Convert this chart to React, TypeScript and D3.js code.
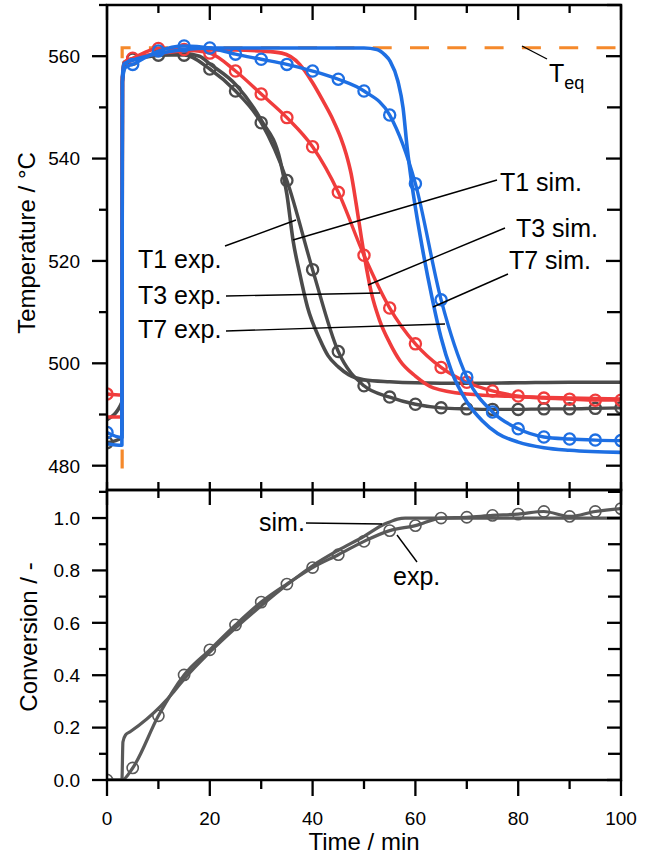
import React from "react";
import * as d3 from "d3";

// ---------- data ----------
const tExp = [0, 5, 10, 15, 20, 25, 30, 35, 40, 45, 50, 55, 60, 65, 70, 75, 80, 85, 90, 95, 100];

const t1Exp = [484.5, 559.4, 560.2, 560.2, 557.5, 553.2, 547, 535.7, 518.3, 502.3, 495.6, 493.4, 492, 491.3, 491.1, 491, 491, 491.1, 491.1, 491.2, 491.3];
const t3Exp = [494, 559.6, 561.5, 561.3, 560.6, 557.1, 552.6, 548, 542.3, 533.4, 521.1, 510.8, 503.8, 499.2, 496.3, 494.6, 493.6, 493.2, 493, 492.8, 492.8];
const t7Exp = [486.5, 558.4, 561, 562, 561.6, 560.4, 559.4, 558.4, 557.1, 555.5, 553.2, 548.5, 535.1, 512.4, 497.3, 490.5, 487.2, 485.6, 485.2, 485, 484.9];

const expLeadT = [0, 2.9, 3.0, 3.6];
const t1ExpLead = [484.5, 485.5, 555, 558.6];
const t3ExpLead = [494, 493.8, 556, 559];
const t7ExpLead = [486.5, 485.5, 555, 557.8];

const t1SimT = [0, 2.9, 3.0, 3.3, 5, 10, 15, 18, 20, 25, 30, 33.7, 35, 36.2, 37.5, 39, 41.4, 43, 45, 47, 50, 55, 60, 70, 80, 90, 100];
const t1SimV = [489, 492.4, 555, 558.8, 559.3, 560.2, 560.5, 560, 558.5, 554.5, 547.5, 539.6, 533, 524, 517.5, 511, 504.7, 501.5, 499.3, 497.8, 496.8, 496.4, 496.2, 496.1, 496.2, 496.3, 496.3];

const t3SimT = [0, 2.9, 3.0, 3.3, 5, 10, 15, 20, 25, 30, 34, 37.5, 40, 42, 44, 45.5, 46.5, 47.5, 48.5, 49.5, 50.5, 51.5, 53, 55, 57, 60, 63.5, 70, 80, 90, 100];
const t3SimV = [489.5, 489.5, 555, 558.6, 559.5, 560.5, 561, 561.2, 561.2, 561, 560.6, 558.4, 554.8, 551.3, 547.5, 544, 541, 537, 531, 524.5, 518.5, 513.5, 508.5, 504, 500.5, 497.5, 495.2, 494, 493.5, 493.2, 493];

const t7SimT = [0, 2.9, 3.0, 3.3, 5, 10, 15, 20, 30, 40, 50, 52.5, 54, 55.1, 56.6, 57.6, 58.4, 59.3, 61, 63.2, 65, 67, 70, 73, 76, 80, 85, 90, 100];
const t7SimV = [484.3, 484, 556, 558.5, 559.2, 560.5, 561.3, 561.6, 561.6, 561.6, 561.6, 561.3, 560.3, 559, 555.1, 549.9, 542.1, 535.1, 524.5, 513, 505, 498.5, 492.5, 488.8, 486.3, 484.6, 483.5, 483, 482.6];

const teqT = [2.95, 2.95, 100];
const teqV = [479, 561.65, 561.65];

const convExp = [0, 0.046, 0.245, 0.401, 0.497, 0.592, 0.679, 0.748, 0.811, 0.86, 0.911, 0.952, 0.971, 1.0, 1.003, 1.01, 1.015, 1.025, 1.006, 1.025, 1.036];
const convLeadT = [0, 2.9];
const convLeadV = [0, 0];
const convSimT = [0, 2.9, 3.1, 3.6, 4.5, 10.5, 13, 15, 20, 25, 30, 35, 40, 45, 50, 54, 55, 56.5, 58, 62, 100];
const convSimV = [0, 0, 0.145, 0.172, 0.184, 0.283, 0.337, 0.385, 0.488, 0.58, 0.665, 0.745, 0.818, 0.877, 0.93, 0.977, 0.985, 0.996, 1.0, 1.0, 1.0];

const xMajor = [0, 20, 40, 60, 80, 100];
const xMinor = [10, 30, 50, 70, 90];
const tempMajor = [480, 500, 520, 540, 560];
const tempMinor = [490, 510, 530, 550, 570];
const convMajor = [0, 0.2, 0.4, 0.6, 0.8, 1.0];
const convMinor = [0.1, 0.3, 0.5, 0.7, 0.9, 1.1];

// ---------- styles ----------
const FONT = "'Liberation Sans', Arial, Helvetica, sans-serif";
const GRAY = "#4b4b4b";
const GRAY2 = "#595959";
const RED = "#f03c3c";
const BLUE = "#1e6fe3";
const ORANGE = "#f5892b";

const L = 107, R = 621;
const TOP0 = 490, TOP1 = 5, BOT0 = 780, BOT1 = 490;

const x = d3.scaleLinear().domain([0, 100]).range([L, R]);
const yT = d3.scaleLinear().domain([475.25, 570]).range([TOP0, TOP1]);
const yB = d3.scaleLinear().domain([0, 1.107]).range([BOT0, BOT1]);

type P = [number, number];
const mk = (ts: number[], vs: number[]): P[] => ts.map((t, i) => [t, vs[i]] as P);

const lineT = d3.line<P>().x(d => x(d[0])).y(d => yT(d[1])).curve(d3.curveMonotoneX);
const lineB = d3.line<P>().x(d => x(d[0])).y(d => yB(d[1])).curve(d3.curveMonotoneX);
const lineLin = d3.line<P>().x(d => x(d[0])).y(d => yT(d[1]));

const expLine = (lead: number[], vals: number[]) =>
  mk(expLeadT, lead).concat(mk(tExp.slice(1), vals.slice(1)));

export default function App() {
  const seriesTop = [
    { sim: mk(t1SimT, t1SimV), exp: expLine(t1ExpLead, t1Exp), pts: t1Exp, c: GRAY },
    { sim: mk(t3SimT, t3SimV), exp: expLine(t3ExpLead, t3Exp), pts: t3Exp, c: RED },
    { sim: mk(t7SimT, t7SimV), exp: expLine(t7ExpLead, t7Exp), pts: t7Exp, c: BLUE },
  ];
  const convExpLine = mk(convLeadT, convLeadV).concat(mk(tExp.slice(1), convExp.slice(1)));

  const tk = (x1: number, y1: number, x2: number, y2: number, k: string) => (
    <line key={k} x1={x1} y1={y1} x2={x2} y2={y2} stroke="#000" strokeWidth={2.3} />
  );

  const ticks: JSX.Element[] = [];
  xMajor.forEach(v => {
    const px = x(v);
    ticks.push(tk(px, TOP1, px, TOP1 + 15, "tt" + v));
    ticks.push(tk(px, TOP0, px, TOP0 - 8, "tb" + v));
    ticks.push(tk(px, BOT1, px, BOT1 + 15, "bt" + v));
    ticks.push(tk(px, BOT0, px, BOT0 + 16, "bb" + v));
  });
  xMinor.forEach(v => {
    const px = x(v);
    ticks.push(tk(px, TOP1, px, TOP1 + 8, "ttm" + v));
    ticks.push(tk(px, TOP0, px, TOP0 - 8, "tbm" + v));
    ticks.push(tk(px, BOT1, px, BOT1 + 8, "btm" + v));
    ticks.push(tk(px, BOT0, px, BOT0 + 9, "bbm" + v));
  });
  tempMajor.forEach(v => {
    const py = yT(v);
    ticks.push(tk(L - 15, py, L, py, "tl" + v));
    ticks.push(tk(R - 15, py, R, py, "tr" + v));
  });
  tempMinor.forEach(v => {
    const py = yT(v);
    ticks.push(tk(L - 8, py, L, py, "tlm" + v));
    ticks.push(tk(R - 14, py, R, py, "trm" + v));
  });
  convMajor.forEach(v => {
    const py = yB(v);
    ticks.push(tk(L - 15, py, L, py, "bl" + v));
    ticks.push(tk(R - 14, py, R, py, "br" + v));
  });
  convMinor.forEach(v => {
    const py = yB(v);
    ticks.push(tk(L - 8, py, L, py, "blm" + v));
    ticks.push(tk(R - 13, py, R, py, "brm" + v));
  });

  const leaders: [number, number, number, number][] = [
    [522, 46, 547, 59],
    [225, 246, 296, 220],
    [293, 240, 497, 180],
    [226, 296, 380, 293],
    [368, 285, 505, 228],
    [226, 331, 445, 324],
    [433, 307, 508, 274],
    [306, 523, 382, 524],
    [397, 535, 417, 562],
  ];

  return (
    <svg width={654} height={857} style={{ position: "absolute", left: 0, top: 0, background: "#fff" }} fontFamily={FONT}>
      <defs>
        <clipPath id="cTop"><rect x={L} y={TOP1} width={R - L} height={TOP0 - TOP1} /></clipPath>
        <clipPath id="cBot"><rect x={L} y={BOT1} width={R - L} height={BOT0 - BOT1} /></clipPath>
      </defs>

      <g clipPath="url(#cTop)">
        <path d={lineLin(mk(teqT, teqV)) || ""} fill="none" stroke={ORANGE} strokeWidth={3.2} strokeDasharray="19 18.3" strokeDashoffset={35.1} />
        {seriesTop.map((s, i) => (
          <g key={i}>
            <path d={lineT(s.sim) || ""} fill="none" stroke={s.c} strokeWidth={3.6} strokeLinejoin="round" />
            <path d={lineT(s.exp) || ""} fill="none" stroke={s.c} strokeWidth={3.4} strokeLinejoin="round" />
            {s.pts.map((v, j) => (
              <circle key={j} cx={x(tExp[j])} cy={yT(v)} r={5.6} fill="none" stroke={s.c} strokeWidth={2.3} />
            ))}
          </g>
        ))}
      </g>

      <g clipPath="url(#cBot)">
        <path d={lineB(mk(convSimT, convSimV)) || ""} fill="none" stroke={GRAY2} strokeWidth={3.2} strokeLinejoin="round" />
        <path d={lineB(convExpLine) || ""} fill="none" stroke={GRAY2} strokeWidth={3.2} strokeLinejoin="round" />
        {convExp.map((v, j) => (
          <circle key={j} cx={x(tExp[j])} cy={yB(v)} r={5.6} fill="none" stroke={GRAY2} strokeWidth={1.6} />
        ))}
      </g>

      {leaders.map((l, i) => (
        <line key={i} x1={l[0]} y1={l[1]} x2={l[2]} y2={l[3]} stroke="#000" strokeWidth={1.4} />
      ))}

      <rect x={L} y={TOP1} width={R - L} height={TOP0 - TOP1} fill="none" stroke="#000" strokeWidth={2.5} />
      <rect x={L} y={BOT1} width={R - L} height={BOT0 - BOT1} fill="none" stroke="#000" strokeWidth={2.5} />
      {ticks}

      {tempMajor.map(v => (
        <text key={v} x={80} y={yT(v)} dy="0.36em" textAnchor="end" fontSize={19}>{v}</text>
      ))}
      {convMajor.map(v => (
        <text key={v} x={80} y={yB(v)} dy="0.36em" textAnchor="end" fontSize={19}>{v.toFixed(1)}</text>
      ))}
      {xMajor.map(v => (
        <text key={v} x={x(v)} y={825} textAnchor="middle" fontSize={19}>{v}</text>
      ))}

      <text transform="translate(35,243) rotate(-90)" textAnchor="middle" fontSize={24}>Temperature / °C</text>
      <text transform="translate(37,637) rotate(-90)" textAnchor="middle" fontSize={24}>Conversion / -</text>
      <text x={364} y={850} textAnchor="middle" fontSize={24}>Time / min</text>

      <text x={138} y={268} fontSize={25}>T1 exp.</text>
      <text x={138} y={304} fontSize={25}>T3 exp.</text>
      <text x={138} y={338} fontSize={25}>T7 exp.</text>
      <text x={500} y={191} fontSize={25}>T1 sim.</text>
      <text x={516} y={237} fontSize={25}>T3 sim.</text>
      <text x={509} y={269} fontSize={25}>T7 sim.</text>
      <text x={549} y={82} fontSize={25}>T<tspan fontSize={18} dy={7}>eq</tspan></text>
      <text x={259} y={531} fontSize={25}>sim.</text>
      <text x={393} y={585} fontSize={25}>exp.</text>
    </svg>
  );
}
